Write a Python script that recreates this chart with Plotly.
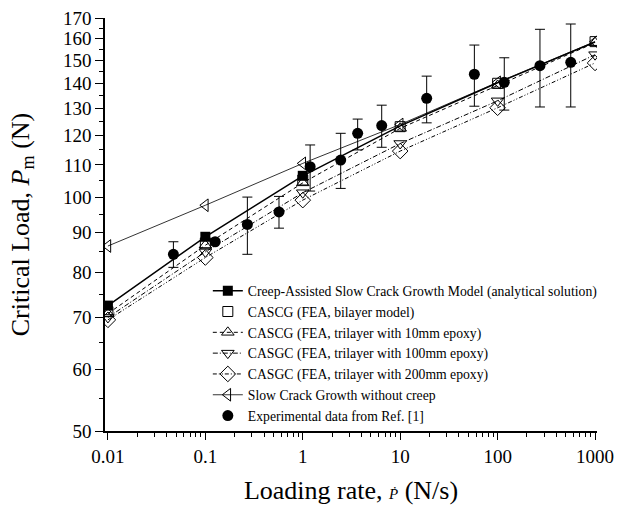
import plotly.graph_objects as go
import math

# ---------------- data ----------------
rates = [0.01, 0.1, 1, 10, 100, 1000]

analytical = [72.5, 88.9, 106.5, 123.5, 140.3, 158.3]
cascg_bilayer = [71.2, 87.3, 105.2, 123.2, 140.1, 158.5]
cascg_tri10 = [70.8, 86.7, 104.3, 122.6, 139.2, 158.0]
casgc_tri100 = [70.0, 85.0, 101.3, 117.2, 133.0, 152.5]
casgc_tri200 = [69.5, 83.6, 99.1, 114.6, 130.3, 148.8]
scg_no_creep = [86.5, 97.6, 110.5, 124.0, 140.5, 158.5]

exp_rate = [0.047, 0.126, 0.27, 0.57, 1.19, 2.45, 3.66, 6.46, 18.7, 57.7, 117, 272, 563]
exp_load = [84.4, 87.6, 92.2, 95.7, 109.4, 111.6, 120.8, 123.6, 134.0, 143.9, 140.5, 147.6, 149.1]
exp_upper = [87.6, 87.6, 100.0, 100.2, 116.7, 120.8, 126.0, 131.3, 143.1, 156.9, 151.1, 164.4, 167.0]
exp_lower = [81.2, 87.6, 84.4, 91.2, 101.8, 102.6, 115.0, 115.9, 124.6, 130.9, 129.4, 130.6, 130.6]

legend_names = [
    "Creep-Assisted Slow Crack Growth Model (analytical solution)",
    "CASCG (FEA, bilayer model)",
    "CASCG (FEA, trilayer with 10mm epoxy)",
    "CASGC (FEA, trilayer with 100mm epoxy)",
    "CASGC (FEA, trilayer with 200mm epoxy)",
    "Slow Crack Growth without creep",
    "Experimental data from Ref. [1]",
]

y_ticks = [50, 60, 70, 80, 90, 100, 110, 120, 130, 140, 150, 160, 170]
y_minor = [55, 65, 75, 85, 95, 105, 115, 125, 135, 145, 155, 165]
x_ticks = [0.01, 0.1, 1, 10, 100, 1000]
x_ticktext = ["0.01", "0.1", "1", "10", "100", "1000"]

# ---------------- figure ----------------
FONT = "Liberation Serif"
K = "black"
fig = go.Figure()

# analytical solution: filled squares only up to 1 N/s (FEA markers cover the rest)
n_sq = sum(1 for r in rates if r <= 1)
fig.add_trace(go.Scatter(
    x=rates[n_sq - 1:], y=analytical[n_sq - 1:], mode="lines", showlegend=False,
    legendgroup="an", line=dict(color=K, width=1.5), hoverinfo="skip",
))
fig.add_trace(go.Scatter(
    x=rates[:n_sq], y=analytical[:n_sq], name=legend_names[0], mode="lines+markers",
    legendgroup="an", line=dict(color=K, width=1.5),
    marker=dict(symbol="square", size=10, color=K, line=dict(width=0)),
))
fig.add_trace(go.Scatter(
    x=rates, y=cascg_bilayer, name=legend_names[1], mode="markers",
    marker=dict(symbol="square-open", size=10, color=K, line=dict(width=1)),
))
fig.add_trace(go.Scatter(
    x=rates, y=cascg_tri10, name=legend_names[2], mode="lines+markers",
    line=dict(color=K, width=1, dash="4px,3px"),
    marker=dict(symbol="triangle-up-open", size=11, color=K, line=dict(width=1)),
))
fig.add_trace(go.Scatter(
    x=rates, y=casgc_tri100, name=legend_names[3], mode="lines+markers",
    line=dict(color=K, width=1, dash="5px,2px,1px,2px"),
    marker=dict(symbol="triangle-down-open", size=11, color=K, line=dict(width=1)),
))
fig.add_trace(go.Scatter(
    x=rates, y=casgc_tri200, name=legend_names[4], mode="lines+markers",
    line=dict(color=K, width=1, dash="4px,2px,1px,2px,1px,2px"),
    marker=dict(symbol="diamond-open", size=12, color=K, line=dict(width=1)),
))
fig.add_trace(go.Scatter(
    x=rates, y=scg_no_creep, name=legend_names[5], mode="lines+markers",
    line=dict(color=K, width=0.8),
    marker=dict(symbol="triangle-left-open", size=11, color=K, line=dict(width=1)),
))
fig.add_trace(go.Scatter(
    x=exp_rate, y=exp_load, name=legend_names[6], mode="markers",
    marker=dict(symbol="circle", size=11, color=K),
    error_y=dict(type="data", symmetric=False,
                 array=[u - v for u, v in zip(exp_upper, exp_load)],
                 arrayminus=[v - l for v, l in zip(exp_load, exp_lower)],
                 color=K, thickness=1, width=5),
))

fig.update_layout(
    width=620, height=511,
    margin=dict(l=105, r=23, t=18, b=80),
    paper_bgcolor="white", plot_bgcolor="white",
    font=dict(family=FONT, color=K, size=19),
    showlegend=True,
    legend=dict(x=0.209, y=0.377, xanchor="left", yanchor="top",
                bgcolor="rgba(0,0,0,0)", font=dict(size=13.7, family=FONT, color=K),
                itemwidth=30, tracegroupgap=0),
)
fig.update_xaxes(
    type="log", range=[-2.03, 3.02], automargin=False,
    tickvals=x_ticks, ticktext=x_ticktext,
    ticks="outside", ticklen=7, tickwidth=1.3, tickcolor=K,
    minor=dict(ticks="outside", ticklen=4, tickwidth=1, tickcolor=K, dtick="D1"),
    showline=True, linecolor=K, linewidth=1.5, showgrid=False, zeroline=False,
    tickfont=dict(size=19, family=FONT, color=K),
    title=dict(text="Loading rate, <span style='font-size:15px'><i>\u1E56</i></span> (N/s)",
               font=dict(size=26, family=FONT, color=K), standoff=15),
)
fig.update_yaxes(
    type="log", range=[math.log10(50), math.log10(170)], automargin=False,
    tickvals=y_ticks, ticktext=[str(v) for v in y_ticks],
    ticks="outside", ticklen=8, tickwidth=1.3, tickcolor=K,
    minor=dict(ticks="outside", ticklen=4, tickwidth=1, tickcolor=K, tickvals=y_minor),
    showline=True, linecolor=K, linewidth=1.5, showgrid=False, zeroline=False,
    tickfont=dict(size=19, family=FONT, color=K),
    title=dict(text="Critical Load, <i>P</i><sub>m</sub> (N)",
               font=dict(size=26, family=FONT, color=K), standoff=26),
)

fig.write_html("out.html", config={"displayModeBar": False},
               post_script="document.body.style.margin='0';")
